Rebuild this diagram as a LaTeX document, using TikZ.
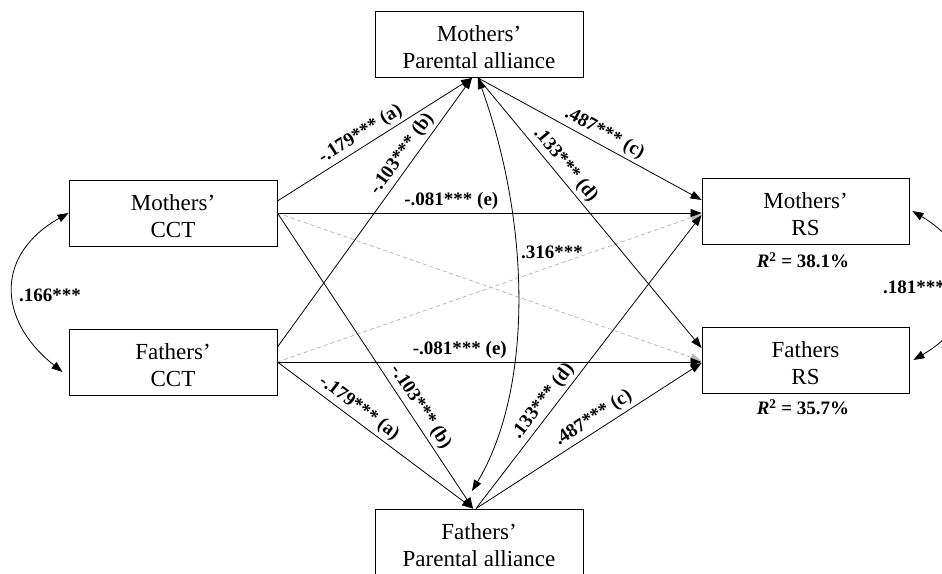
\documentclass[tikz,border=0pt]{standalone}
\usepackage{fontspec}
\setmainfont{Liberation Serif}
\usetikzlibrary{arrows.meta,calc}
\newcommand\myTS{\rule{0pt}{21.5pt}}
\begin{document}
\begin{tikzpicture}[x=1pt,y=-1pt,
  box/.style={draw, line width=0.9pt, minimum width=208pt, minimum height=66pt, inner sep=0pt, align=center, font=\fontsize{23}{27}\selectfont},
  arr/.style={line width=0.8pt, -{Triangle[length=11pt,width=8pt]}},
  darr/.style={line width=0.8pt, draw=black!28, dash pattern=on 4pt off 3pt, -{Triangle[length=11pt,width=8pt,fill=black!28]}},
  carr/.style={line width=0.8pt, {Triangle[length=11pt,width=8pt]}-{Triangle[length=11pt,width=8pt]}},
  lab/.style={font=\bfseries\fontsize{19}{19}\selectfont, inner sep=1pt, sloped, above=2pt},
  txt/.style={font=\bfseries\fontsize{19}{19}\selectfont, inner sep=1pt}
]
\useasboundingbox (0,0) rectangle (942,573);

% boxes
\node[box] (mcct) at (173,213) {\myTS Mothers’\\CCT};
\node[box] (fcct) at (173,362) {\myTS Fathers’\\CCT};
\node[box] (mpa) at (479,44.5) {\myTS Mothers’\\Parental alliance};
\node[box] (fpa) at (479,542) {\myTS Fathers’\\Parental alliance};
\node[box, minimum width=207pt] (mrs) at (805.5,211) {\myTS Mothers’\\RS};
\node[box, minimum width=207pt] (frs) at (805.5,360) {\myTS Fathers\\RS};

% dashed (non-significant) paths
\draw[darr] (mcct.east) -- ([yshift=-1pt]frs.west);
\draw[darr] (fcct.east) -- ([yshift=-3pt]mrs.west);

% paths to mothers' parental alliance
\draw[arr] ([yshift=12pt]mcct.east) -- node[lab,pos=0.46] (la1) {-.179*** (a)} ([xshift=-7pt]mpa.south);
\draw[arr] ([yshift=15pt]fcct.east) -- node[lab,pos=0.69] (lb1) {-.103*** (b)} ([xshift=-7pt]mpa.south);
\draw[arr] ([xshift=-1pt]mpa.south) -- node[lab,pos=0.54] (lc1) {.487*** (c)} ([yshift=11pt]mrs.west);
\draw[arr] ([xshift=-1pt]mpa.south) -- node[lab,pos=0.35] (ld1) {.133*** (d)} ([yshift=12pt]frs.west);
\draw[arr] (mcct.east) -- node[lab,pos=0.41] (le1) {-.081*** (e)} ([yshift=-2pt]mrs.west);

% paths to fathers' parental alliance
\draw[arr] (fcct.east) -- node[lab,pos=0.38] (la2) {-.179*** (a)} ([xshift=-6pt]fpa.north);
\draw[arr] (mcct.east) -- node[lab,pos=0.68] (lb2) {-.103*** (b)} ([xshift=-6pt]fpa.north);
\draw[arr] ([xshift=-3pt]fpa.north) -- node[lab,pos=0.55] (lc2) {.487*** (c)} ([yshift=-3pt]frs.west);
\draw[arr] ([xshift=-3pt]fpa.north) -- node[lab,pos=0.34] (ld2) {.133*** (d)} ([yshift=-4pt]mrs.west);
\draw[arr] (fcct.east) -- node[lab,pos=0.43] (le2) {-.081*** (e)} ([yshift=-2pt]frs.west);

% covariances
\coordinate (pe) at (472,491);
\draw[carr] ([xshift=-1pt]mpa.south) .. controls (532,228) and (532,391) .. (pe);
\draw[carr] (mcct.west) .. controls (-4,254) and (-4,319) .. ([shift={(-6pt,-10pt)}]fcct.west);
\draw[carr] ([xshift=3pt]mrs.east) .. controls (984,254) and (984,319) .. ([xshift=4pt]frs.east);

% free labels
\node[txt] (k316) at (552,252) {.316***};
\node[txt, anchor=west] (k166) at (18,295) {.166***};
\node[txt, anchor=west] (k181) at (882,287) {.181***};
\node[txt] (r1) at (803,260) {\textit{R}\textsuperscript{2} = 38.1\%};
\node[txt] (r2) at (803,407) {\textit{R}\textsuperscript{2} = 35.7\%};
\end{tikzpicture}
\end{document}
